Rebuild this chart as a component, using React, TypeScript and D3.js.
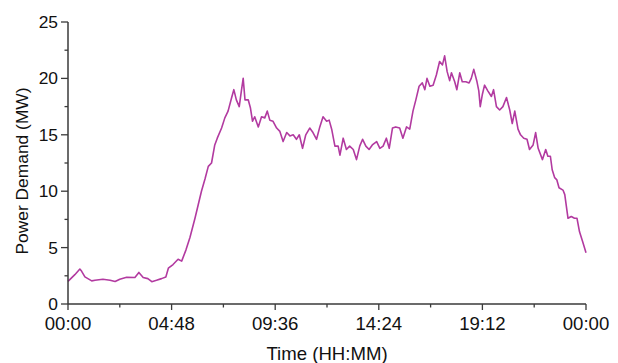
import React from "react";
import * as d3 from "d3";

// time of day in minutes, demand in MW
const minutes = [
  0, 19, 33, 38, 47, 66, 75, 97, 117, 131, 144, 163, 186, 197, 209, 222, 233, 246, 260, 272,
  279, 292, 306, 316, 328, 339, 353, 362, 371, 381, 390, 399, 408, 415, 427, 436, 445, 455, 461, 468,
  476, 482, 487, 492, 501, 507, 513, 519, 529, 538, 547, 554, 561, 570, 580, 589, 598, 608, 617, 626,
  635, 643, 652, 661, 672, 681, 691, 700, 709, 719, 726, 733, 742, 751, 756, 765, 774, 783, 793, 802,
  811, 819, 828, 837, 846, 858, 867, 876, 885, 893, 902, 911, 922, 931, 941, 950, 959, 967, 976, 985,
  992, 998, 1006, 1015, 1024, 1033, 1041, 1047, 1054, 1061, 1066, 1075, 1081, 1089, 1096, 1106, 1115, 1121, 1128, 1137,
  1142, 1146, 1152, 1158, 1167, 1177, 1183, 1191, 1200, 1209, 1219, 1228, 1235, 1242, 1251, 1258, 1267, 1276, 1283, 1293,
  1300, 1307, 1319, 1328, 1334, 1341, 1346, 1353, 1359, 1365, 1376, 1381, 1390, 1399, 1408, 1415, 1422, 1431, 1440,
];
const demand = [
  2.0, 2.6, 3.1, 2.9, 2.4, 2.05, 2.1, 2.2, 2.1, 2.0, 2.2, 2.37, 2.35, 2.8, 2.35, 2.25, 1.98, 2.1, 2.25, 2.4,
  3.17, 3.5, 3.97, 3.8, 4.8, 5.9, 7.6, 8.8, 10.0, 11.1, 12.2, 12.5, 14.1, 14.7, 15.6, 16.5, 17.1, 18.3, 19.0, 18.1,
  17.5, 18.9, 20.0, 18.1, 18.1, 17.4, 16.2, 16.6, 15.7, 16.6, 16.5, 17.1, 16.3, 16.2, 15.6, 15.3, 14.4, 15.2, 14.9, 15.0,
  14.6, 15.0, 13.8, 15.0, 15.6, 15.2, 14.6, 15.7, 16.6, 16.2, 16.3, 15.5, 14.0, 14.0, 13.2, 14.7, 13.7, 14.0, 13.7, 12.8,
  14.0, 14.6, 14.0, 13.7, 14.1, 14.4, 13.8, 14.0, 14.7, 13.8, 15.6, 15.7, 15.6, 14.7, 15.7, 15.5, 17.1, 18.1, 19.3, 19.6,
  19.0, 20.0, 19.3, 19.4, 20.3, 21.5, 21.2, 22.0, 20.6, 19.8, 20.5, 19.7, 19.0, 20.5, 19.7, 19.7, 19.6, 20.0, 20.8, 19.7,
  18.9, 17.5, 18.6, 19.4, 18.9, 18.4, 19.0, 17.5, 17.2, 17.5, 18.3, 17.2, 16.0, 17.1, 15.5, 15.0, 14.7, 14.6, 13.7, 14.1,
  15.2, 13.8, 12.8, 13.7, 13.1, 13.1, 11.9, 11.2, 11.0, 10.3, 10.1, 9.7, 7.6, 7.75, 7.6, 7.6, 6.4, 5.5, 4.55,
];

const xTicks = [0, 288, 576, 864, 1152, 1440];
const xTickLabels = ["00:00", "04:48", "09:36", "14:24", "19:12", "00:00"];
const yTicks = [0, 5, 10, 15, 20, 25];

const W = 618;
const H = 363;
const font = "Liberation Sans, Arial, sans-serif";

export default function App() {
  const x = d3.scaleLinear().domain([0, 1440]).range([68, 586]);
  const y = d3.scaleLinear().domain([0, 25]).range([304, 22]);

  const points = minutes.map((m, i) => [m, demand[i]] as [number, number]);
  const line = d3
    .line<[number, number]>()
    .x(d => x(d[0]))
    .y(d => y(d[1]));

  const xMinor = xTicks.slice(0, -1).map((t, i) => (t + xTicks[i + 1]) / 2);
  const yMinor = yTicks.slice(0, -1).map((t, i) => (t + yTicks[i + 1]) / 2);
  const axisColor = "#3a3a3a";

  return (
    <svg
      width={W}
      height={H}
      style={{ position: "absolute", left: 0, top: 0, background: "#fff" }}
    >
      <path d={line(points) || ""} fill="none" stroke="#b23aa0" strokeWidth={1.6} strokeLinejoin="round" />

      {/* axes */}
      <line x1={x(0)} x2={x(1440)} y1={y(0)} y2={y(0)} stroke={axisColor} strokeWidth={1.5} />
      <line x1={x(0)} x2={x(0)} y1={y(0)} y2={y(25)} stroke={axisColor} strokeWidth={1.5} />

      {xTicks.map((t, i) => (
        <g key={"xt" + i}>
          <line x1={x(t)} x2={x(t)} y1={y(0)} y2={y(0) + 6} stroke={axisColor} strokeWidth={1.3} />
          <text x={x(t)} y={330} textAnchor="middle" fontFamily={font} fontSize={18.6} fill="#111">
            {xTickLabels[i]}
          </text>
        </g>
      ))}
      {xMinor.map((t, i) => (
        <line key={"xm" + i} x1={x(t)} x2={x(t)} y1={y(0)} y2={y(0) + 3.5} stroke={axisColor} strokeWidth={1.3} />
      ))}

      {yTicks.map((t, i) => (
        <g key={"yt" + i}>
          <line x1={x(0) - 7} x2={x(0)} y1={y(t)} y2={y(t)} stroke={axisColor} strokeWidth={1.3} />
          <text
            x={x(0) - 10}
            y={y(t)}
            dy="0.35em"
            textAnchor="end"
            fontFamily={font}
            fontSize={17.4}
            fill="#111"
          >
            {t}
          </text>
        </g>
      ))}
      {yMinor.map((t, i) => (
        <line key={"ym" + i} x1={x(0) - 3.5} x2={x(0)} y1={y(t)} y2={y(t)} stroke={axisColor} strokeWidth={1.3} />
      ))}

      <text x={327} y={360} textAnchor="middle" fontFamily={font} fontSize={18.6} fill="#111">
        Time (HH:MM)
      </text>
      <text
        transform={`translate(28, ${171}) rotate(-90)`}
        textAnchor="middle"
        fontFamily={font}
        fontSize={17.4}
        fill="#111"
      >
        Power Demand (MW)
      </text>
    </svg>
  );
}
